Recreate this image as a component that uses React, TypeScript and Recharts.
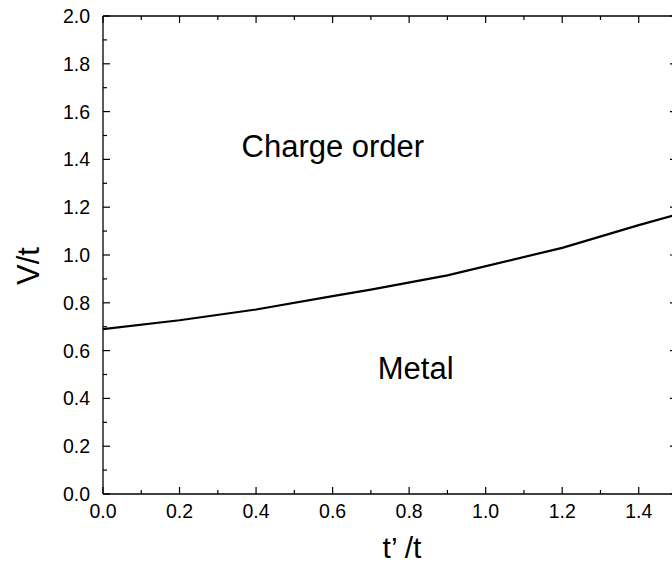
import React from 'react';
import { LineChart, Line, XAxis, YAxis, ReferenceDot } from 'recharts';

// phase boundary V/t vs t'/t
const tPrime = [0, 0.2, 0.4, 0.6, 0.7, 0.9, 1.2, 1.4, 1.5];
const vCrit = [0.69, 0.727, 0.772, 0.828, 0.855, 0.915, 1.03, 1.125, 1.17];

const xTicks = [0, 0.1, 0.2, 0.3, 0.4, 0.5, 0.6, 0.7, 0.8, 0.9, 1.0, 1.1, 1.2, 1.3, 1.4, 1.5];
const yTicks = [0, 0.1, 0.2, 0.3, 0.4, 0.5, 0.6, 0.7, 0.8, 0.9, 1.0, 1.1, 1.2, 1.3, 1.4, 1.5, 1.6, 1.7, 1.8, 1.9, 2.0];

const regionLabels = ['Charge order', 'Metal'];
const regionAnchors = [
  { t: 0.362, v: 1.411 },
  { t: 0.718, v: 0.483 },
];

const data = tPrime.map((t, i) => ({ t, v: vCrit[i] }));

const FONT = '"Liberation Sans", Arial, sans-serif';
const isMajor = (v: number) => Math.round(v * 10) % 2 === 0;

const BottomTick = ({ x, y, payload }: any) => {
  const major = isMajor(payload.value);
  return (
    <g>
      <line x1={x} y1={y} x2={x} y2={y - (major ? 7 : 4)} stroke="#000" strokeWidth={1.2} />
      {major && (
        <text x={x} y={y + 24} textAnchor="middle" fontSize={19.5} fontFamily={FONT} fill="#000">
          {payload.value.toFixed(1)}
        </text>
      )}
    </g>
  );
};

const TopTick = ({ x, y, payload }: any) => (
  <line x1={x} y1={y} x2={x} y2={y + (isMajor(payload.value) ? 7 : 4)} stroke="#000" strokeWidth={1.2} />
);

const LeftTick = ({ x, y, payload }: any) => {
  const major = isMajor(payload.value);
  return (
    <g>
      <line x1={x} y1={y} x2={x + (major ? 7 : 4)} y2={y} stroke="#000" strokeWidth={1.2} />
      {major && (
        <text x={x - 13} y={y} dy="0.36em" textAnchor="end" fontSize={19.5} fontFamily={FONT} fill="#000">
          {payload.value.toFixed(1)}
        </text>
      )}
    </g>
  );
};

const RightTick = ({ x, y, payload }: any) => (
  <line x1={x} y1={y} x2={x - (isMajor(payload.value) ? 7 : 4)} y2={y} stroke="#000" strokeWidth={1.2} />
);

export default function App() {
  return (
    <div style={{ position: 'fixed', left: 0, top: 0, width: 672, height: 564, overflow: 'hidden', background: '#fff' }}>
      <LineChart width={678} height={564} data={data} margin={{ top: 15, right: 0, bottom: 30, left: 43 }}>
        <XAxis
          xAxisId="b"
          type="number"
          dataKey="t"
          domain={[0, 1.5]}
          ticks={xTicks}
          interval={0}
          height={40}
          tickSize={0}
          tickMargin={0}
          tickLine={false}
          tick={<BottomTick />}
          axisLine={{ stroke: '#000', strokeWidth: 1.3 }}
          allowDataOverflow
          label={{
            content: () => (
              <text x={402} y={558} textAnchor="middle" fontSize={30} fontFamily={FONT} fill="#000">
                t’ /t
              </text>
            ),
          }}
        />
        <XAxis
          xAxisId="top"
          orientation="top"
          type="number"
          dataKey="t"
          domain={[0, 1.5]}
          ticks={xTicks}
          interval={0}
          height={1}
          tickSize={0}
          tickMargin={0}
          tickLine={false}
          tick={<TopTick />}
          axisLine={{ stroke: '#000', strokeWidth: 1.3 }}
          allowDataOverflow
        />
        <YAxis
          yAxisId="l"
          type="number"
          domain={[0, 2]}
          ticks={yTicks}
          interval={0}
          width={60}
          tickSize={0}
          tickMargin={0}
          tickLine={false}
          tick={<LeftTick />}
          axisLine={{ stroke: '#000', strokeWidth: 1.3 }}
          allowDataOverflow
          label={{
            content: () => (
              <text
                x={39}
                y={266}
                transform="rotate(-90 39 266)"
                textAnchor="middle"
                fontSize={31}
                fontFamily={FONT}
                fill="#000"
              >
                V/t
              </text>
            ),
          }}
        />
        <YAxis
          yAxisId="r"
          orientation="right"
          type="number"
          domain={[0, 2]}
          ticks={yTicks}
          interval={0}
          width={1}
          tickSize={0}
          tickMargin={0}
          tickLine={false}
          tick={<RightTick />}
          axisLine={{ stroke: '#000', strokeWidth: 1.3 }}
          allowDataOverflow
        />
        <Line
          xAxisId="b"
          yAxisId="l"
          type="linear"
          dataKey="v"
          stroke="#000"
          strokeWidth={2.2}
          dot={false}
          isAnimationActive={false}
        />
        {regionLabels.map((label, i) => (
          <ReferenceDot
            key={label}
            xAxisId="b"
            yAxisId="l"
            x={regionAnchors[i].t}
            y={regionAnchors[i].v}
            r={0}
            ifOverflow="visible"
            shape={(p: any) => (
              <text x={p.cx} y={p.cy} fontSize={31} fontFamily={FONT} fill="#000">
                {label}
              </text>
            )}
          />
        ))}
      </LineChart>
    </div>
  );
}
